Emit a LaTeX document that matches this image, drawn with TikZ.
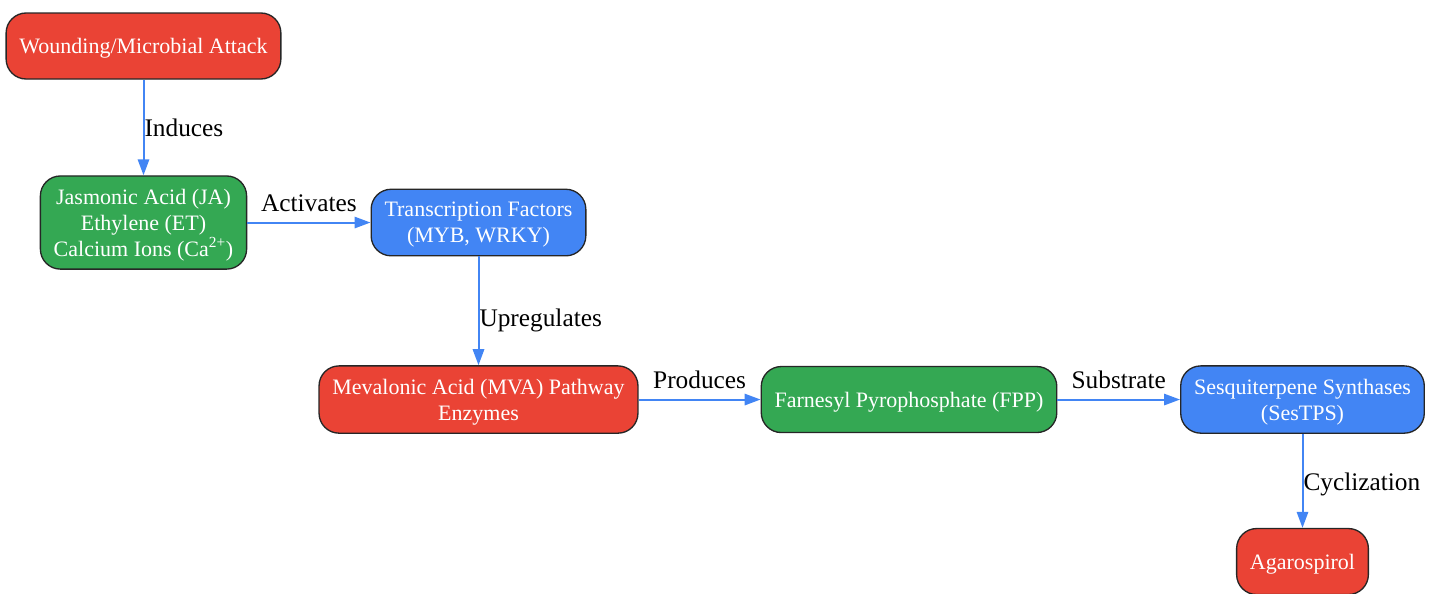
\documentclass[tikz,border=0pt]{standalone}
\usepackage{fontspec}
\setmainfont{Liberation Serif}
\usetikzlibrary{arrows.meta, positioning}

\definecolor{wred}{HTML}{EA4335}
\definecolor{wgreen}{HTML}{34A853}
\definecolor{wblue}{HTML}{4285F4}

\begin{document}
\begin{tikzpicture}[x=0.75pt, y=-0.75pt, >={Triangle[length=12pt,width=8.5pt]}, auto]
		\tikzstyle{box}=[draw=black!85, line width=1pt, rounded corners=15pt, text=white, align=center, font=\fontsize{16.5}{19.4}\selectfont, minimum height=49.5pt, text depth=0pt, inner xsep=10pt, inner ysep=9.8pt]
		\tikzstyle{every edge}=[draw=wblue, line width=1.5pt, ->]
		\tikzstyle{lbl}=[text=black, inner sep=0pt, font=\fontsize{19}{22}\selectfont]
		
		\useasboundingbox (0,0) rectangle (1434,593);
		
		\node[box, fill=wred] (W) at (143.5,46) {Wounding/Microbial Attack};
		\node[box, fill=wgreen] (J) [below of=W, node distance=132.4pt] {Jasmonic Acid (JA)\\Ethylene (ET)\\Calcium Ions (Ca\textsuperscript{2+})};
		\node[box, fill=wblue] (T) [right of=J, node distance=251.25pt] {Transcription Factors\\(MYB, WRKY)};
		\node[box, fill=wred] (M) [below of=T, node distance=132.75pt] {Mevalonic Acid (MVA) Pathway\\Enzymes};
		\node[box, fill=wgreen] (F) [right of=M, node distance=322.9pt] {Farnesyl Pyrophosphate (FPP)};
		\node[box, fill=wblue] (S) [right of=F, node distance=295.1pt] {Sesquiterpene Synthases\\(SesTPS)};
		\node[box, fill=wred] (A) [below of=S, node distance=121.5pt] {Agarospirol};
		
		\path (W) edge node[lbl, right] {Induces} (J)
		(J) edge node[lbl, above=7.5pt] {Activates} (T)
		(T) edge node[lbl, right, yshift=-7.5pt] {Upregulates} (M)
		(M) edge node[lbl, above=7.5pt] {Produces} (F)
		(F) edge node[lbl, above=7.5pt] {Substrate} (S)
		(S) edge node[lbl, right, yshift=-2.5pt] {Cyclization} (A);
	\end{tikzpicture}
\end{document}
